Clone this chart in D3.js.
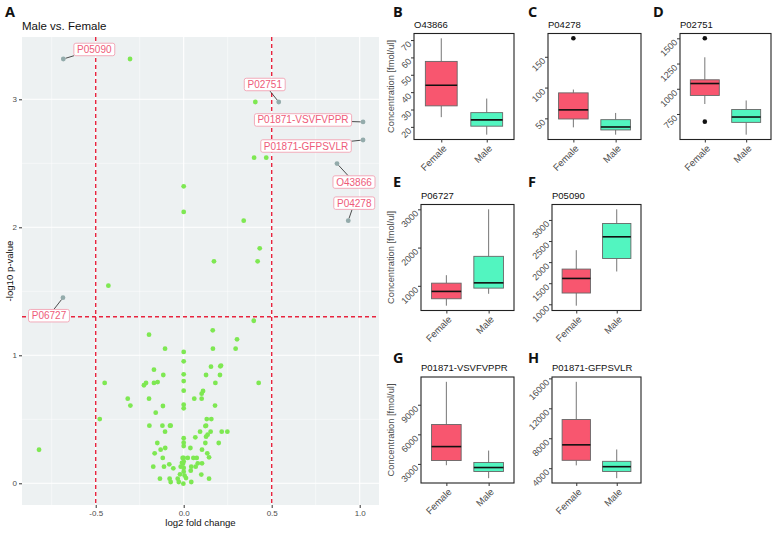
<!DOCTYPE html>
<html><head><meta charset="utf-8">
<script src="https://cdn.jsdelivr.net/npm/d3@7"></script>
<style>
body{margin:0;background:#fff}
svg{display:block}
text{font-family:"Liberation Sans",Arial,sans-serif}
</style>
</head><body>
<svg id="c" width="773" height="533"></svg>
<script>
// ---------- DATA: volcano plot (panel A) ----------
const log2fc = [-0.305,0.407,0.40,0.469,0,0,0.341,0.432,0.172,0.42,-0.428,-0.822,0.398,0.165,-0.197,0.303,-0.106,0.166,0.295,0,0,-0.169,0.155,0.208,0.212,-0.116,0,0.127,0.206,-0.449,-0.214,-0.226,-0.169,-0.148,0,0.18,0.426,0,0.11,0.102,-0.318,-0.197,0.06,0.102,-0.303,-0.118,0,0,0.178,-0.159,-0.477,0.131,0.157,-0.195,-0.121,-0.078,-0.074,0.127,0.123,-0.106,0.093,0.153,0.216,0.248,0.066,0.127,0.136,0,0,0,-0.15,0.199,0.123,-0.105,-0.131,0.038,0.104,-0.165,0.134,-0.119,-0.006,0,0.023,0.055,0.074,0.144,-0.082,-0.004,0.08,0.104,-0.173,-0.112,-0.059,-0.017,0.043,0.068,0.04,0.1,-0.021,0,-0.135,-0.08,-0.034,0.144,-0.074,-0.028,-0.002,0.043,0.013,0,0,0.005,-0.01];
const negLog10p = [3.315,2.979,2.544,2.544,2.32,2.12,2.052,1.836,1.734,1.734,1.544,0.262,1.270,1.195,1.161,1.125,1.052,1.052,1.052,1.026,0.953,0.888,0.911,0.914,0.92,0.846,0.851,0.846,0.846,0.784,0.784,0.766,0.784,0.791,0.799,0.784,0.784,0.724,0.721,0.700,0.661,0.661,0.661,0.661,0.607,0.604,0.614,0.586,0.607,0.552,0.502,0.502,0.502,0.450,0.450,0.450,0.450,0.450,0.447,0.403,0.403,0.403,0.403,0.403,0.359,0.364,0.380,0.352,0.317,0.291,0.315,0.315,0.315,0.276,0.263,0.276,0.263,0.234,0.234,0.198,0.198,0.198,0.198,0.198,0.198,0.203,0.148,0.153,0.156,0.156,0.130,0.130,0.117,0.130,0.130,0.130,0.099,0.068,0.070,0.091,0.036,0.036,0.036,0.036,0.010,0.010,-0.003,0.010,0.041,0.17,0.12,0.06,0.16];
const sigIds = ["P05090","P02751","P01871-VSVFVPPR","P01871-GFPSVLR","O43866","P04278","P06727"];
const sigFC = [-0.684,0.540,1.019,1.019,0.871,0.935,-0.686];
const sigP = [3.315,2.979,2.823,2.682,2.498,2.052,1.45];
const xTicksA = [-0.5,0.0,0.5,1.0];
const yTicksA = [0,1,2,3];
const fcCut = [-0.5,0.5];
const pCut = 1.301;

// ---------- DATA: box plots (panels B-H) ----------
const proteins = ["O43866","P04278","P02751","P06727","P05090","P01871-VSVFVPPR","P01871-GFPSVLR"];
const groups = ["Female","Male"];
// [lower whisker, Q1, median, Q3, upper whisker]
const femaleStats = [[25.6,32.1,44,57.7,71],[35.4,49,63.8,91.4,96.8],[849,934,1052,1089,1312],[481,662,854,1070,1278],[967,1267,1613,1835,2283],[2869,3343,4758,7000,11323],[4378,5054,7122,10500,15541]];
const maleStats = [[15.5,20.4,24,28.2,36.3],[23.5,31.2,36,47.9,58.8],[545,667,720,795,884],[792,940,1078,1771,3000],[1778,2085,2600,2915,3252],[1556,2232,2636,3141,4354],[2667,3568,4203,4919,6502]];
const femaleOutliers = [[],[180],[1500,674],[],[],[],[]];
const maleOutliers = [[],[],[],[],[],[],[]];
const boxYTicks = [[20,30,40,50,60,70],[50,100,150],[750,1000,1250,1500],[1000,2000,3000],[1000,1500,2000,2500,3000],[3000,6000,9000],[4000,8000,12000,16000]];
const panelLetters = ["B","C","D","E","F","G","H"];

// ---------- LAYOUT ----------
const layout = [
  {x0:414,x1:514,top:33.5,lx:393,ly:16.5,yTitle:true},
  {x0:548,x1:641,top:33.5,lx:528,ly:16.5,yTitle:false},
  {x0:680,x1:771,top:33.5,lx:653,ly:16.5,yTitle:false},
  {x0:421,x1:514,top:204.5,lx:393,ly:186.5,yTitle:true},
  {x0:552,x1:641,top:204.5,lx:528,ly:186.5,yTitle:false},
  {x0:421,x1:514,top:377,lx:393,ly:362.5,yTitle:true},
  {x0:552,x1:641,top:377,lx:528,ly:362.5,yTitle:false}
];
const PH = 106;
const FEM = "#F8566F", MAL = "#52F5C0";

const svg = d3.select("#c");

// ---------- PANEL A ----------
const A = {x0:22,x1:379,y0:37,y1:505};
const xA = d3.scaleLinear().domain([-0.9188,1.1097]).range([A.x0,A.x1]);
const yA = d3.scaleLinear().domain([-0.1695,3.4867]).range([A.y1,A.y0]);
const gA = svg.append("g");
gA.append("rect").attr("x",A.x0).attr("y",A.y0).attr("width",A.x1-A.x0).attr("height",A.y1-A.y0).attr("fill","#EDF1F2");
const minorX = [-0.75,-0.25,0.25,0.75], minorY=[0.5,1.5,2.5];
gA.selectAll(".mx").data(minorX).join("line").attr("x1",d=>xA(d)).attr("x2",d=>xA(d)).attr("y1",A.y0).attr("y2",A.y1).attr("stroke","#fff").attr("stroke-width",0.5);
gA.selectAll(".my").data(minorY).join("line").attr("y1",d=>yA(d)).attr("y2",d=>yA(d)).attr("x1",A.x0).attr("x2",A.x1).attr("stroke","#fff").attr("stroke-width",0.5);
gA.selectAll(".Mx").data(xTicksA).join("line").attr("x1",d=>xA(d)).attr("x2",d=>xA(d)).attr("y1",A.y0).attr("y2",A.y1).attr("stroke","#fff").attr("stroke-width",1.1);
gA.selectAll(".My").data(yTicksA).join("line").attr("y1",d=>yA(d)).attr("y2",d=>yA(d)).attr("x1",A.x0).attr("x2",A.x1).attr("stroke","#fff").attr("stroke-width",1.1);

// axes
const axB = gA.append("g").attr("transform",`translate(0,${A.y1})`)
  .call(d3.axisBottom(xA).tickValues(xTicksA).tickSize(3).tickPadding(2).tickFormat(d=>d.toFixed(1).replace("−","-")));
const axL = gA.append("g").attr("transform",`translate(${A.x0},0)`)
  .call(d3.axisLeft(yA).tickValues(yTicksA).tickSize(3).tickPadding(2).tickFormat(d=>String(d)));
[axB,axL].forEach(a=>{a.select(".domain").remove();a.selectAll("line").attr("stroke","#333");a.selectAll("text").attr("fill","#4D4D4D").style("font-size","8px");});

// threshold lines
gA.selectAll(".vc").data(fcCut).join("line").attr("x1",d=>xA(d)).attr("x2",d=>xA(d)).attr("y1",A.y0).attr("y2",A.y1)
  .attr("stroke","#E8243E").attr("stroke-width",1.4).attr("stroke-dasharray","4,3");
gA.append("line").attr("x1",A.x0).attr("x2",A.x1).attr("y1",yA(pCut)).attr("y2",yA(pCut))
  .attr("stroke","#E8243E").attr("stroke-width",1.4).attr("stroke-dasharray","4,3");

// points
gA.append("g").selectAll("circle").data(log2fc.map((d,i)=>[d,negLog10p[i]])).join("circle")
  .attr("cx",d=>xA(d[0])).attr("cy",d=>yA(d[1])).attr("r",2.4).attr("fill","#7EE852");
gA.append("g").selectAll("circle").data(sigFC.map((d,i)=>[d,sigP[i]])).join("circle")
  .attr("cx",d=>xA(d[0])).attr("cy",d=>yA(d[1])).attr("r",2.4).attr("fill","#93ABAB");

// repelled labels (pixel offsets of label centre from point)
const labelOffset = [[31,-9.5],[-14,-17.5],[-60,-2],[-57,6],[17,18.5],[6,-17.5],[-14,18]];
const gLines = gA.append("g"), gRects = gA.append("g"), gTexts = gA.append("g");
sigIds.forEach((id,i)=>{
  const px = xA(sigFC[i]), py = yA(sigP[i]);
  const cx = px+labelOffset[i][0], cy = py+labelOffset[i][1];
  const t = gTexts.append("text").attr("x",cx).attr("y",cy).attr("text-anchor","middle").attr("dominant-baseline","central")
    .style("font-size","10px").attr("fill","#EE5B79").text(id);
  const bb = t.node().getBBox();
  const w = bb.width+6, h = 12.5;
  const dx = cx-px, dy = cy-py;
  const sx = Math.abs(dx)>0? (w/2)/Math.abs(dx):Infinity, sy = Math.abs(dy)>0? (h/2)/Math.abs(dy):Infinity;
  const s = Math.min(sx,sy,1);
  const ex = cx - dx*s, ey = cy - dy*s;
  const len = Math.hypot(ex-px,ey-py)||1, ux=(ex-px)/len, uy=(ey-py)/len;
  gLines.append("line").attr("x1",px+ux*2.5).attr("y1",py+uy*2.5).attr("x2",ex).attr("y2",ey).attr("stroke","#222").attr("stroke-width",0.8);
  gRects.append("rect").attr("x",cx-w/2).attr("y",cy-h/2).attr("width",w).attr("height",h).attr("rx",2)
    .attr("fill","#fff").attr("stroke","#F2A3B3").attr("stroke-width",0.9);
});

// titles and labels A
svg.append("text").attr("x",5).attr("y",16.5).text("A").style("font-family","'Open Sans',sans-serif").style("font-weight","700").style("font-size","14.5px").attr("fill","#111");
svg.append("text").attr("x",22).attr("y",30).text("Male vs. Female").style("font-size","11.5px").attr("fill","#111");
svg.append("text").attr("x",(A.x0+A.x1)/2).attr("y",526).attr("text-anchor","middle").text("log2 fold change").style("font-size","9.6px").attr("fill","#111");
svg.append("text").attr("transform",`translate(9,${(A.y0+A.y1)/2}) rotate(-90)`).attr("text-anchor","middle").attr("dominant-baseline","central").text("-log10 p-value").style("font-size","9.6px").attr("fill","#111");

// ---------- BOX PANELS ----------
proteins.forEach((prot,i)=>{
  const L = layout[i];
  const g = svg.append("g");
  const vals = femaleStats[i].concat(maleStats[i],femaleOutliers[i],maleOutliers[i]);
  const lo = d3.min(vals), hi = d3.max(vals), pad = (hi-lo)*0.05;
  const y = d3.scaleLinear().domain([lo-pad,hi+pad]).range([L.top+PH,L.top]);
  const x = d3.scalePoint().domain(groups).range([L.x0,L.x1]).padding(0.6);
  const bw = x.step()*0.7;
  g.append("rect").attr("x",L.x0).attr("y",L.top).attr("width",L.x1-L.x0).attr("height",PH).attr("fill","#fff");
  const stats = [femaleStats[i],maleStats[i]], outs=[femaleOutliers[i],maleOutliers[i]], fills=[FEM,MAL];
  groups.forEach((grp,j)=>{
    const s = stats[j], cx = x(grp);
    g.append("line").attr("x1",cx).attr("x2",cx).attr("y1",y(s[4])).attr("y2",y(s[3])).attr("stroke","#666").attr("stroke-width",0.9);
    g.append("line").attr("x1",cx).attr("x2",cx).attr("y1",y(s[1])).attr("y2",y(s[0])).attr("stroke","#666").attr("stroke-width",0.9);
    g.append("rect").attr("x",cx-bw/2).attr("y",y(s[3])).attr("width",bw).attr("height",y(s[1])-y(s[3]))
      .attr("fill",fills[j]).attr("stroke","#666").attr("stroke-width",0.9);
    g.append("line").attr("x1",cx-bw/2).attr("x2",cx+bw/2).attr("y1",y(s[2])).attr("y2",y(s[2])).attr("stroke","#111").attr("stroke-width",1.6);
    g.append("g").selectAll("circle").data(outs[j]).join("circle").attr("cx",cx).attr("cy",d=>y(d)).attr("r",2.3).attr("fill","#111");
  });
  g.append("rect").attr("x",L.x0).attr("y",L.top).attr("width",L.x1-L.x0).attr("height",PH).attr("fill","none").attr("stroke","#222").attr("stroke-width",1.1);
  const ay = g.append("g").attr("transform",`translate(${L.x0},0)`).call(d3.axisLeft(y).tickValues(boxYTicks[i]).tickSize(3).tickFormat(d=>String(d)));
  ay.select(".domain").remove();
  ay.selectAll("line").attr("stroke","#333");
  ay.selectAll("text").attr("x",null).attr("dy",null).attr("text-anchor","end").attr("dominant-baseline","central")
    .attr("transform","translate(-4,2) rotate(-45)").attr("fill","#4D4D4D").style("font-size","9px");
  const ax = g.append("g").attr("transform",`translate(0,${L.top+PH})`).call(d3.axisBottom(x).tickSize(3));
  ax.select(".domain").remove();
  ax.selectAll("line").attr("stroke","#333");
  ax.selectAll("text").attr("y",null).attr("dy",null).attr("text-anchor","end").attr("dominant-baseline","central")
    .attr("transform","translate(3,7) rotate(-45)").attr("fill","#4D4D4D").style("font-size","9.5px");
  svg.append("text").attr("x",L.x0).attr("y",L.top-6).text(prot).style("font-size","9.5px").attr("fill","#111");
  svg.append("text").attr("x",L.lx).attr("y",L.ly).text(panelLetters[i]).style("font-family","'Open Sans',sans-serif").style("font-weight","700").style("font-size","14.5px").attr("fill","#111");
  if(L.yTitle){
    svg.append("text").attr("transform",`translate(391,${L.top+PH/2}) rotate(-90)`).attr("text-anchor","middle").attr("dominant-baseline","central")
      .text("Concentration [fmol/ul]").style("font-size","9.3px").attr("fill","#4D4D4D");
  }
});
</script>
</body></html>
